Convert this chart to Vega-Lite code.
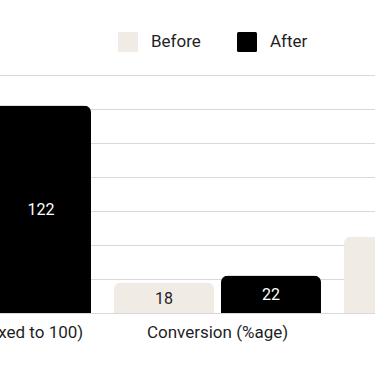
{
  "$schema": "https://vega.github.io/schema/vega-lite/v6.json",
  "width": 375,
  "height": 238,
  "autosize": {"type": "none"},
  "padding": {"top": 75, "left": 0, "right": 0, "bottom": 53},
  "background": "#ffffff",
  "config": {"font": "Roboto", "view": {"stroke": null}},
  "data": {
    "values": [
      {"metric": "Revenue (indexed to 100)", "group": "Before", "value": 100},
      {"metric": "Revenue (indexed to 100)", "group": "After", "value": 122},
      {"metric": "Conversion (%age)", "group": "Before", "value": 18},
      {"metric": "Conversion (%age)", "group": "After", "value": 22},
      {"metric": "Avg. Order Value", "group": "Before", "value": 45},
      {"metric": "Avg. Order Value", "group": "After", "value": 58}
    ]
  },
  "encoding": {
    "x": {
      "field": "metric",
      "type": "nominal",
      "sort": ["Revenue (indexed to 100)", "Conversion (%age)", "Avg. Order Value"],
      "scale": {"range": [-127.5, 562.5], "paddingInner": 0, "paddingOuter": 0},
      "axis": {"title": null, "domain": false, "ticks": false, "labelAngle": 0, "labelFontSize": 17, "labelColor": "#1f1f1f", "labelPadding": 11, "labelLimit": 0}
    },
    "xOffset": {
      "field": "group",
      "type": "nominal",
      "sort": ["Before", "After"],
      "scale": {"paddingInner": 0.0654, "paddingOuter": 0.1075}
    }
  },
  "layer": [
    {
      "mark": {"type": "bar", "cornerRadiusEnd": 7},
      "encoding": {
        "y": {
          "field": "value",
          "type": "quantitative",
          "scale": {"domain": [0, 140]},
          "axis": {"title": null, "labels": false, "ticks": false, "domain": false, "values": [0, 20, 40, 60, 80, 100, 120, 140], "gridColor": "#d9d9d9", "gridWidth": 1}
        },
        "color": {
          "field": "group",
          "type": "nominal",
          "sort": ["Before", "After"],
          "scale": {"domain": ["Before", "After"], "range": ["#F0EBE5", "#000000"]},
          "legend": {
            "title": null,
            "orient": "none",
            "direction": "horizontal",
            "legendX": 118,
            "legendY": -43,
            "padding": 0,
            "symbolSize": 400,
            "symbolType": "M -1 -0.85 Q -1 -1 -0.85 -1 L 0.85 -1 Q 1 -1 1 -0.85 L 1 0.85 Q 1 1 0.85 1 L -0.85 1 Q -1 1 -1 0.85 Z",
            "symbolStrokeWidth": 0,
            "symbolOpacity": 1,
            "labelFontSize": 17,
            "labelColor": "#1f1f1f",
            "labelOffset": 13,
            "columnPadding": 36
          }
        }
      }
    },
    {
      "mark": {"type": "text", "fontSize": 16, "baseline": "middle", "dy": 1},
      "encoding": {
        "y": {"field": "value", "type": "quantitative", "scale": {"domain": [0, 280]}, "axis": null},
        "text": {"field": "value", "type": "quantitative"},
        "color": {"condition": {"test": "datum.group === 'After'", "value": "#ffffff"}, "value": "#1f1f1f"}
      }
    }
  ],
  "resolve": {"scale": {"y": "independent"}}
}
